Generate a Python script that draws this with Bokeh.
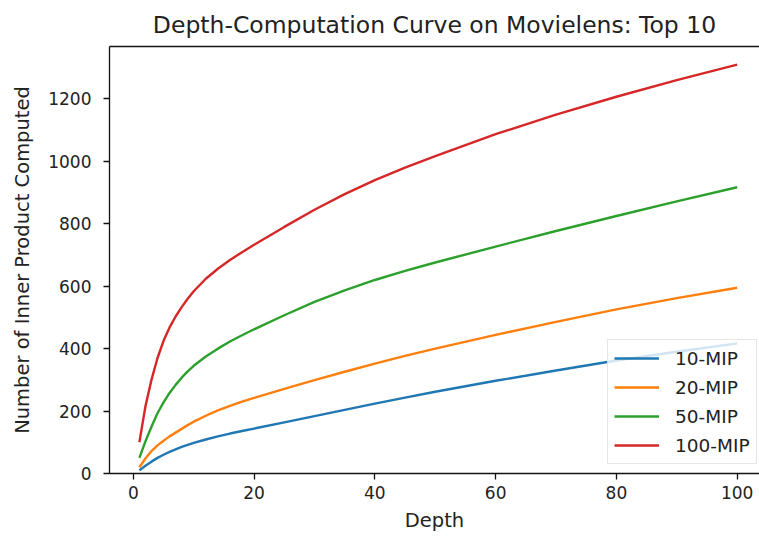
from bokeh.plotting import figure
from bokeh.models import Range1d, LinearAxis, Legend, LegendItem, FixedTicker
from bokeh.embed import file_html
from bokeh.resources import INLINE

# ---- data ----
depth = [1, 2, 3, 4, 5, 6, 7, 8, 9, 10, 12, 14, 16, 18, 20, 25, 30, 35, 40, 45, 50, 60, 70, 80, 90, 100]
mip_10 = [10, 25, 38, 50, 60, 69, 77, 85, 91.5, 98, 109, 119, 128, 136, 144, 164, 184, 204, 224, 243, 262, 297, 330, 362, 390, 417]
mip_20 = [20, 48, 72, 90, 105, 119, 131, 143, 155, 166, 185, 202, 217, 230, 242, 271, 299, 326, 352, 377, 400, 444, 486, 526, 562, 595]
mip_50 = [50, 103, 150, 193, 228, 258, 284, 307, 327, 345, 375, 400, 423, 443, 462, 507, 550, 587, 620, 649, 676, 727, 777, 825, 872, 917]
mip_100 = [100, 215, 300, 370, 425, 468, 503, 533, 560, 584, 624, 656, 684, 709, 733, 790, 845, 895, 940, 980, 1017, 1087, 1150, 1207, 1260, 1310]

series_labels = ["10-MIP", "20-MIP", "50-MIP", "100-MIP"]
series_values = [mip_10, mip_20, mip_50, mip_100]
colors = ["#1f77b4", "#ff7f0e", "#2ca02c", "#d62728"]

x_ticks = [0, 20, 40, 60, 80, 100]
y_ticks = [0, 200, 400, 600, 800, 1000, 1200]

FONT = "DejaVu Sans"
TXT = "#222222"
SPINE = "#111111"

p = figure(
    width=759, height=536,
    output_backend="svg", toolbar_location=None,
    x_range=Range1d(-3.95, 103.7), y_range=Range1d(0, 1368),
    min_border_left=109, min_border_right=0,
    min_border_top=45, min_border_bottom=63,
    title="Depth-Computation Curve on Movielens: Top 10",
)
p.xgrid.visible = False
p.ygrid.visible = False
p.outline_line_color = None
p.background_fill_color = "white"
p.border_fill_color = "white"

p.title.text_font = FONT
p.title.text_font_size = "23.5px"
p.title.text_font_style = "normal"
p.title.text_color = TXT
p.title.align = "center"
p.title.standoff = 16

xax = p.below[0]
yax = p.left[0]

# top spine: an axis without ticks or labels
top = LinearAxis(
    ticker=FixedTicker(ticks=[]),
    major_tick_out=0, major_tick_in=0, minor_tick_out=0, minor_tick_in=0,
    major_label_text_font_size="0px", major_label_standoff=0,
    axis_line_color=SPINE, axis_line_width=1.3,
)
p.add_layout(top, "above")

for ax, ticks in ((xax, x_ticks), (yax, y_ticks)):
    ax.ticker = FixedTicker(ticks=ticks)
    ax.axis_line_color = SPINE
    ax.axis_line_width = 1.3
    ax.major_tick_line_color = SPINE
    ax.major_tick_line_width = 1.3
    ax.major_tick_out = 6
    ax.major_tick_in = 0
    ax.minor_tick_out = 0
    ax.minor_tick_in = 0
    ax.major_label_text_font = FONT
    ax.major_label_text_font_size = "17px"
    ax.major_label_text_color = TXT
    ax.axis_label_text_font = FONT
    ax.axis_label_text_font_size = "19.5px"
    ax.axis_label_text_font_style = "normal"
    ax.axis_label_text_color = TXT

xax.axis_label = "Depth"
yax.axis_label = "Number of Inner Product Computed"
xax.major_label_standoff = 6
yax.major_label_standoff = 12
xax.axis_label_standoff = 7
yax.axis_label_standoff = 11

items = []
for lab, vals, col in zip(series_labels, series_values, colors):
    r = p.line(depth, vals, line_color=col, line_width=2.4)
    items.append(LegendItem(label=lab, renderers=[r]))

legend = Legend(
    items=items, location=(498, 9),
    label_text_font=FONT, label_text_font_size="18.5px", label_text_color=TXT,
    glyph_width=45, glyph_height=20, label_standoff=16, label_height=24,
    padding=6, spacing=5, margin=0,
    border_line_color="#cccccc", border_line_width=1,
    background_fill_color="white", background_fill_alpha=0.8,
)
p.add_layout(legend)

open("out.html", "w").write(file_html(p, INLINE))
